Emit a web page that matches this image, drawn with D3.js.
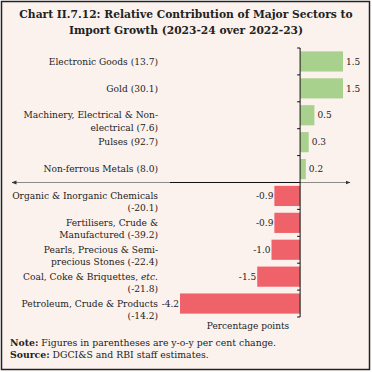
<!DOCTYPE html>
<html>
<head>
<meta charset="utf-8">
<script src="https://cdn.jsdelivr.net/npm/d3@7"></script>
<style>
  body { margin: 0; background: #fff; }
  svg { display: block; }
</style>
</head>
<body>
<svg id="chart" width="372" height="372"></svg>
<script>
// categories, top to bottom (each label may break over lines)
const categories = [
  ["Electronic Goods (13.7)"],
  ["Gold (30.1)"],
  ["Machinery, Electrical & Non-", "electrical (7.6)"],
  ["Pulses (92.7)"],
  ["Non-ferrous Metals (8.0)"],
  ["Organic & Inorganic Chemicals", "(-20.1)"],
  ["Fertilisers, Crude &", "Manufactured (-39.2)"],
  ["Pearls, Precious & Semi-", "precious Stones (-22.4)"],
  ["Coal, Coke & Briquettes, etc.", "(-21.8)"],
  ["Petroleum, Crude & Products", "(-14.2)"]
];
const contribution = [1.5, 1.5, 0.5, 0.3, 0.2, -0.9, -0.9, -1.0, -1.5, -4.2];
const valueLabels = ["1.5", "1.5", "0.5", "0.3", "0.2", "-0.9", "-0.9", "-1.0", "-1.5", "-4.2"];

const titleLines = [
  "Chart II.7.12: Relative Contribution of Major Sectors to",
  "Import Growth (2023-24 over 2022-23)"
];
const axisTitle = "Percentage points";
const noteLines = [
  ["Note:", " Figures in parentheses are y-o-y per cent change."],
  ["Source:", " DGCI&S and RBI staff estimates."]
];

const svg = d3.select("#chart");
const font = "'DejaVu Serif', serif";

// panel background + frame
svg.append("rect")
  .attr("x", 1.5).attr("y", 1.5)
  .attr("width", 368).attr("height", 368)
  .attr("fill", "#fbf2ee")
  .attr("stroke", "#222").attr("stroke-width", 1.5);

// title
svg.append("g").selectAll("text")
  .data(titleLines)
  .join("text")
  .attr("x", 186)
  .attr("y", (d, i) => 18 + i * 16)
  .attr("text-anchor", "middle")
  .attr("font-family", font)
  .attr("font-weight", "bold")
  .attr("font-size", 10.7)
  .attr("fill", "#222")
  .text(d => d);

const idx = d3.range(categories.length);

const x = d3.scaleLinear()
  .domain([-4.2, 1.5])
  .range([180, 343]);

const y = d3.scaleBand()
  .domain(idx)
  .range([48, 317])
  .paddingInner(0.25)
  .paddingOuter(0.125);

const zeroY = y(5) - y.step() * y.paddingInner() / 2;

// bars
svg.append("g").selectAll("rect")
  .data(idx)
  .join("rect")
  .attr("x", i => x(Math.min(0, contribution[i])))
  .attr("y", i => y(i))
  .attr("width", i => Math.abs(x(contribution[i]) - x(0)))
  .attr("height", y.bandwidth())
  .attr("fill", i => contribution[i] >= 0 ? "#a9d18e" : "#f0626a");

// value labels
svg.append("g").selectAll("text")
  .data(idx)
  .join("text")
  .attr("x", i => contribution[i] >= 0 ? x(contribution[i]) + 3 : x(contribution[i]) - 1)
  .attr("y", i => y(i) + y.bandwidth() / 2)
  .attr("dy", "0.35em")
  .attr("text-anchor", i => contribution[i] >= 0 ? "start" : "end")
  .attr("font-family", font)
  .attr("font-size", 9)
  .attr("fill", "#222")
  .text(i => valueLabels[i]);

// category labels: first line on the band centre, rest below
const labelX = 158;
const catG = svg.append("g").selectAll("text")
  .data(idx)
  .join("text")
  .attr("x", labelX)
  .attr("y", i => y(i) + y.bandwidth() / 2)
  .attr("text-anchor", "end")
  .attr("font-family", font)
  .attr("font-size", 9.1)
  .attr("fill", "#222");
catG.each(function(i) {
  const t = d3.select(this);
  categories[i].forEach((line, j) => {
    // "etc." is set in italics
    const parts = line.split(/(etc\.)/).filter(p => p !== "");
    parts.forEach((p, k) => {
      const ts = t.append("tspan").text(p);
      if (k === 0) ts.attr("x", labelX).attr("dy", j === 0 ? "0.35em" : "1.35em");
      if (p === "etc.") ts.attr("font-style", "italic");
    });
  });
});

// arrow markers
const defs = svg.append("defs");
["end", "start"].forEach(k => {
  defs.append("marker")
    .attr("id", "arrow-" + k)
    .attr("viewBox", "0 0 10 10")
    .attr("refX", k === "end" ? 9 : 1).attr("refY", 5)
    .attr("markerWidth", 5).attr("markerHeight", 5)
    .attr("orient", "auto")
    .append("path")
    .attr("d", k === "end" ? "M0,1L10,5L0,9Z" : "M10,1L0,5L10,9Z")
    .attr("fill", "#333");
});

// horizontal zero line with arrows
svg.append("line")
  .attr("x1", 12).attr("x2", 350)
  .attr("y1", zeroY).attr("y2", zeroY)
  .attr("stroke", "#8a8a8a").attr("stroke-width", 1)
  .attr("marker-start", "url(#arrow-start)")
  .attr("marker-end", "url(#arrow-end)");
svg.append("line")
  .attr("x1", x(-4.2) - 10).attr("x2", x(0))
  .attr("y1", zeroY).attr("y2", zeroY)
  .attr("stroke", "#111").attr("stroke-width", 1);

// vertical category axis at zero, ticks between bands
const tickYs = d3.range(categories.length + 1).map(i => y.range()[0] + i * y.step());
svg.append("line")
  .attr("x1", x(0)).attr("x2", x(0))
  .attr("y1", y.range()[0]).attr("y2", y.range()[1])
  .attr("stroke", "#111").attr("stroke-width", 1);
svg.append("g").selectAll("line")
  .data(tickYs)
  .join("line")
  .attr("x1", x(0) - 3).attr("x2", x(0))
  .attr("y1", d => d).attr("y2", d => d)
  .attr("stroke", "#111").attr("stroke-width", 1);

// axis title
svg.append("text")
  .attr("x", 248).attr("y", 329)
  .attr("text-anchor", "middle")
  .attr("font-family", font)
  .attr("font-size", 9)
  .attr("fill", "#222")
  .text(axisTitle);

// notes
const notes = svg.append("g").selectAll("text")
  .data(noteLines)
  .join("text")
  .attr("x", 10)
  .attr("y", (d, i) => 346 + i * 12)
  .attr("font-family", font)
  .attr("font-size", 9.3)
  .attr("fill", "#222");
notes.append("tspan").attr("font-weight", "bold").text(d => d[0]);
notes.append("tspan").text(d => d[1]);
</script>
</body>
</html>
